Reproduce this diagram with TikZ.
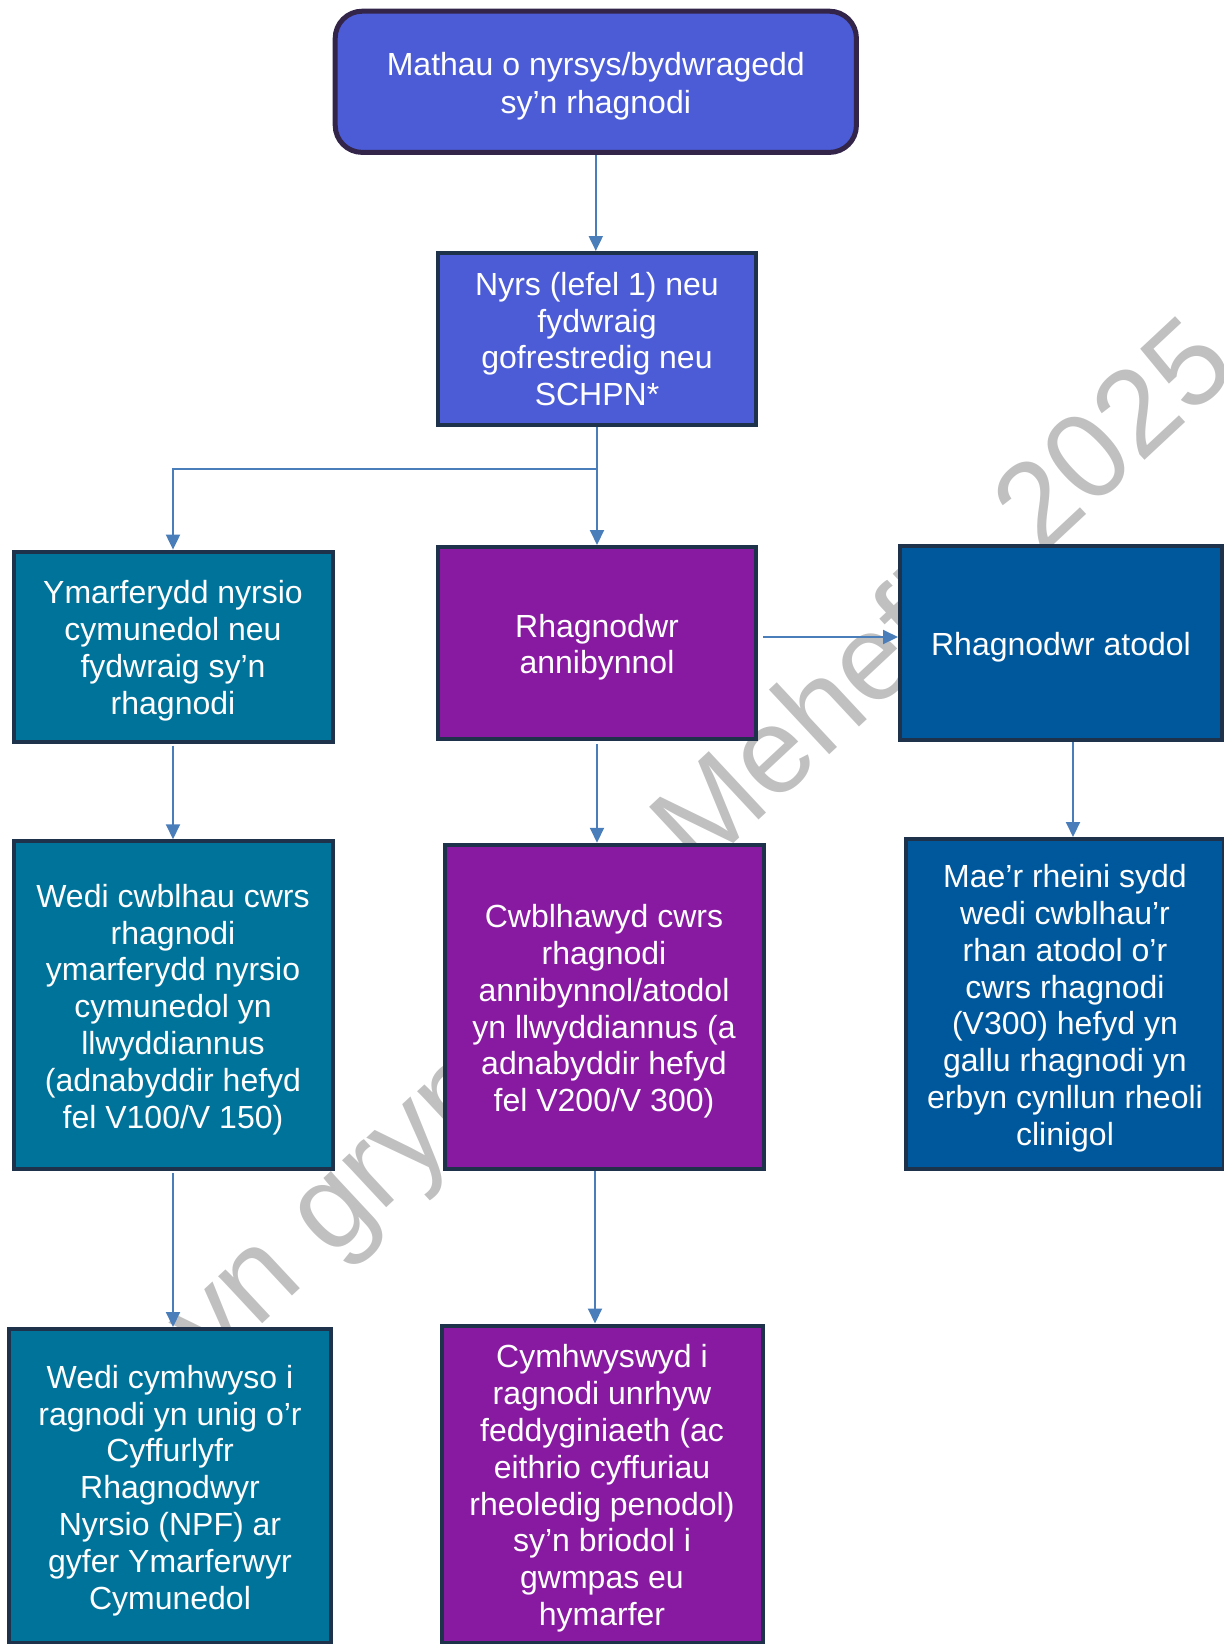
\documentclass[tikz,border=0pt]{standalone}
\usepackage{fontspec}
\setmainfont{Liberation Sans}
\usetikzlibrary{arrows.meta, calc}

\definecolor{royal}{HTML}{4B5CD6}
\definecolor{tealbox}{HTML}{00739A}
\definecolor{plumbox}{HTML}{8819A1}
\definecolor{navybox}{HTML}{00589C}
\definecolor{edgeline}{HTML}{1E324C}
\definecolor{topedge}{HTML}{33244A}
\definecolor{linkblue}{HTML}{4A7EBB}
\definecolor{wmgray}{HTML}{C0C0C0}

\newcommand{\lift}{\rule{0pt}{15.9pt}}

\begin{document}
\begin{tikzpicture}[x=0.5pt, y=-0.5pt,
		box/.style={draw=edgeline, line width=2pt, text=white, align=center, inner sep=0pt,
			font=\fontsize{16}{18.4}\selectfont},
		link/.style={draw=linkblue, line width=1pt, -{Triangle[length=7.5pt, width=7pt]}},
		wm/.style={text=wmgray, inner sep=0pt, font=\fontsize{61}{61}\selectfont}]
		\useasboundingbox (0,0) rectangle (1224,1644);
		\clip (0,0) rectangle (1224,1644);
		
		% watermark
		\node[wm, anchor=base west, rotate=43] (wm1) at (212,1371) {yn gryno};
		\node[wm, anchor=base west, rotate=43] (wm2) at (699,876) {Mehefin 2025};
		
		\node[box, fill=royal, draw=topedge, line width=2.5pt, rounded corners=13.5pt,
			minimum width=260.6pt, minimum height=70.6pt, font=\fontsize{16}{18.9}\selectfont]
			(top) at (595.8,81.8) {\lift Mathau o nyrsys/bydwragedd\\sy’n rhagnodi};
		\node[box, fill=royal, minimum width=159pt, minimum height=86pt] (nyrs) at (597,339)
			{Nyrs (lefel 1) neu\\fydwraig\\gofrestredig neu\\SCHPN*};
		
		\node[box, fill=tealbox, minimum width=159.5pt, minimum height=95pt] (ymarf) at (173,646.6)
			{\lift Ymarferydd nyrsio\\cymunedol neu\\fydwraig sy’n\\rhagnodi};
		\node[box, fill=plumbox, minimum width=159pt, minimum height=96pt] (annib) at (597,643)
			{\lift Rhagnodwr\\annibynnol};
		\node[box, fill=navybox, minimum width=161pt, minimum height=97pt] (atodol) at (1061,643)
			{\lift Rhagnodwr atodol};
		
		\node[box, fill=tealbox, minimum width=159.5pt, minimum height=163.75pt] (wcwbl) at (173,1005)
			{\lift Wedi cwblhau cwrs\\rhagnodi\\ymarferydd nyrsio\\cymunedol yn\\llwyddiannus\\(adnabyddir hefyd\\fel V100/V 150)};
		\node[box, fill=plumbox, minimum width=159.5pt, minimum height=162.25pt] (cwbl) at (604,1007)
			{\lift Cwblhawyd cwrs\\rhagnodi\\annibynnol/atodol\\yn llwyddiannus (a\\adnabyddir hefyd\\fel V200/V 300)};
		\node[box, fill=navybox, minimum width=159pt, minimum height=165pt] (maer) at (1065,1004)
			{\lift Mae’r rheini sydd\\wedi cwblhau’r\\rhan atodol o’r\\cwrs rhagnodi\\(V300) hefyd yn\\gallu rhagnodi yn\\erbyn cynllun rheoli\\clinigol};
		
		\node[box, fill=tealbox, minimum width=161pt, minimum height=157pt] (wcym) at (170,1486)
			{\lift Wedi cymhwyso i\\ragnodi yn unig o’r\\Cyffurlyfr\\Rhagnodwyr\\Nyrsio (NPF) ar\\gyfer Ymarferwyr\\Cymunedol};
		\node[box, fill=plumbox, minimum width=160.5pt, minimum height=158.5pt] (cym) at (602,1484)
			{\lift Cymhwyswyd i\\ragnodi unrhyw\\feddyginiaeth (ac\\eithrio cyffuriau\\rheoledig penodol)\\sy’n briodol i\\gwmpas eu\\hymarfer};
		
		% connectors
		\coordinate (split) at ($(nyrs.south)+(0,42)$);
		\draw[link] (top.south) -- (top.south |- nyrs.north);
		\draw[link] (nyrs.south) -- (annib.north);
		\draw[link] (split) -| (ymarf.north);
		\draw[link] ([xshift=2.5pt, yshift=3pt]annib.east) -- ([yshift=3pt]atodol.west);
		\draw[link] ([yshift=-1pt]ymarf.south) -- (wcwbl.north);
		\draw[link] ([yshift=-1.5pt]annib.south) -- (annib.south |- cwbl.north);
		\draw[link] ([xshift=6pt]atodol.south) -- ([xshift=6pt]atodol.south |- maer.north);
		\draw[link] ([yshift=-1pt]wcwbl.south) -- (wcwbl.south |- wcym.north);
		\draw[link] ([xshift=-4.5pt]cwbl.south) -- ([xshift=-4.5pt]cwbl.south |- cym.north);
	\end{tikzpicture}
\end{document}
